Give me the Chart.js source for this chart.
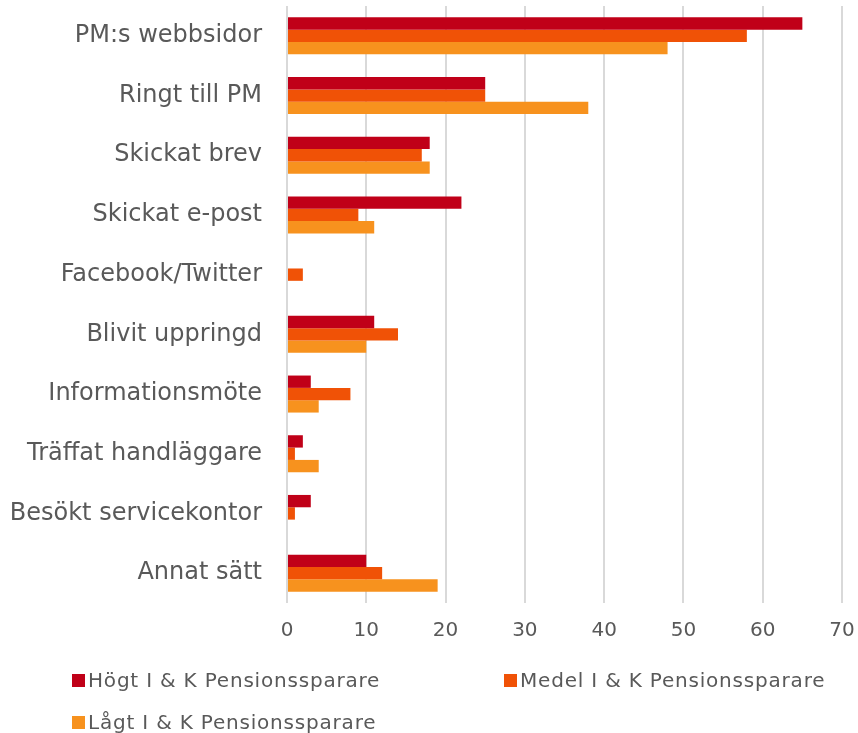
<!DOCTYPE html>
<html>
<head>
<meta charset="utf-8">
<script src="https://cdn.jsdelivr.net/npm/chart.js@4/dist/chart.umd.min.js"></script>
<style>
  body { margin: 0; background: #fff; }
  #wrap { position: relative; width: 858px; height: 733px; }
  #legend { position: absolute; left: 0; top: 0; width: 858px; height: 733px; pointer-events: none;
            font-family: "DejaVu Sans", Verdana, sans-serif; font-size: 20px; letter-spacing: 0.8px; color: #595959; }
  .item { position: absolute; display: flex; align-items: center; white-space: nowrap; height: 24px; }
  .box { width: 13px; height: 13px; margin-right: 3px; }
</style>
</head>
<body>
<div id="wrap">
  <canvas id="chart" width="858" height="733"></canvas>
  <div id="legend"></div>
</div>
<script>
const categories = ['PM:s webbsidor', 'Ringt till PM', 'Skickat brev', 'Skickat e-post', 'Facebook/Twitter',
    'Blivit uppringd', 'Informationsmöte', 'Träffat handläggare', 'Besökt servicekontor', 'Annat sätt'];
const seriesNames = ['Högt I & K Pensionssparare', 'Medel I & K Pensionssparare', 'Lågt I & K Pensionssparare'];
const hogt  = [65, 25, 18, 22, 0, 11, 3, 2, 3, 10];
const medel = [58, 25, 17, 9, 2, 14, 8, 1, 1, 12];
const lagt  = [48, 38, 18, 11, 0, 10, 4, 4, 0, 19];
const xTicks = [0, 10, 20, 30, 40, 50, 60, 70];

const colors = ['#C00018', '#F05206', '#F7921E'];
const font = '"DejaVu Sans", Verdana, sans-serif';

const chart = new Chart(document.getElementById('chart'), {
    type: 'bar',
    data: {
        labels: categories,
        datasets: [hogt, medel, lagt].map((d, i) => ({
            label: seriesNames[i],
            data: d,
            backgroundColor: colors[i],
            categoryPercentage: 0.62,
            barPercentage: 1
        }))
    },
    options: {
        indexAxis: 'y',
        responsive: false,
        animation: false,
        layout: { padding: { top: 6, right: 16, bottom: 90, left: 0 } },
        plugins: { legend: { display: false }, tooltip: { enabled: false } },
        scales: {
            x: {
                min: 0, max: 70,
                afterBuildTicks: s => { s.ticks = xTicks.map(v => ({ value: v })); },
                afterFit: s => { s.height = 40; s.paddingLeft = 0; s.paddingRight = 0; },
                grid: { color: '#d9d9d9', lineWidth: 2, drawTicks: false },
                border: { display: false },
                ticks: { color: '#595959', padding: 16, font: { family: font, size: 20 } }
            },
            y: {
                afterFit: s => { s.width = 287; s.paddingTop = 0; s.paddingBottom = 0; },
                grid: { display: false, drawTicks: false },
                border: { display: false },
                ticks: { color: '#595959', padding: 25, font: { family: font, size: 24 } }
            }
        }
    }
});

// legend laid out like the original (two columns, wrapping)
const legendPos = [[72, 680], [504, 680], [72, 722]];
const legend = document.getElementById('legend');
chart.data.datasets.forEach((ds, i) => {
    const el = document.createElement('div');
    el.className = 'item';
    el.style.left = legendPos[i][0] + 'px';
    el.style.top = (legendPos[i][1] - 12) + 'px';
    el.innerHTML = `<span class="box" style="background:${ds.backgroundColor}"></span>${ds.label}`;
    legend.appendChild(el);
});
</script>
</body>
</html>
